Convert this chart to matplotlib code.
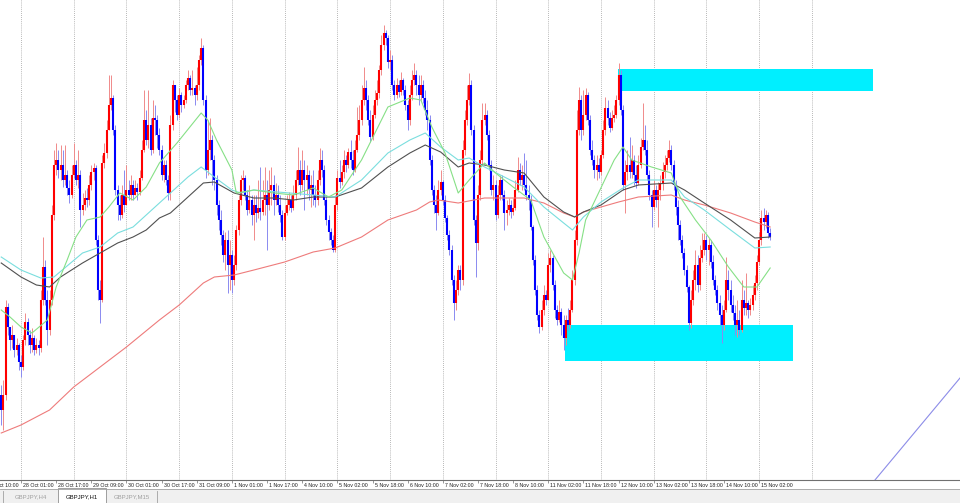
import matplotlib.pyplot as plt
from matplotlib.patches import Rectangle
from matplotlib.lines import Line2D
import numpy as np


# GBPJPY H1 bars, oldest first (open of each bar = previous close)
first_open = 139.05
close = [
    138.90, 139.05, 139.93, 139.73, 139.60, 139.65, 139.50, 139.55, 139.38, 139.33,
    139.60, 139.78, 139.65, 139.55, 139.62, 139.50, 139.55, 139.52, 140.00, 140.33,
    140.00, 139.70, 140.00, 140.85, 141.35, 141.40, 141.30, 141.35, 141.20, 141.25,
    141.12, 141.05, 141.25, 141.35, 141.20, 141.25, 140.90, 140.95, 141.02, 141.00,
    141.15, 141.28, 141.32, 140.60, 140.10, 140.00, 141.37, 141.47, 141.70, 141.95,
    142.02, 141.70, 141.10, 140.95, 140.85, 141.05, 140.95, 141.10, 141.05, 141.15,
    141.05, 141.12, 141.08, 141.22, 141.50, 141.80, 141.60, 141.75, 141.50, 141.82,
    141.80, 141.65, 141.50, 141.25, 141.35, 141.20, 141.07, 141.75, 142.15, 142.00,
    141.85, 142.05, 141.95, 142.00, 142.15, 142.22, 142.10, 142.12, 142.05, 142.15,
    142.40, 142.52, 142.00, 141.30, 141.50, 141.60, 141.40, 141.20, 140.95, 140.80,
    140.65, 140.45, 140.60, 140.35, 140.45, 140.20, 140.35, 140.70, 141.00, 141.20,
    141.22, 141.05, 140.90, 141.00, 140.85, 140.95, 140.87, 140.92, 140.88, 141.00,
    141.05, 140.95, 141.10, 141.15, 141.00, 141.05, 140.95, 140.85, 140.63, 140.87,
    140.95, 141.00, 140.92, 141.05, 141.20, 141.30, 141.15, 141.30, 141.20, 141.25,
    141.10, 141.15, 141.05, 141.00, 141.20, 141.40, 141.30, 141.00, 140.80, 140.68,
    140.60, 140.50, 140.95, 141.22, 141.18, 141.28, 141.40, 141.35, 141.48, 141.40,
    141.30, 141.50, 141.65, 141.80, 142.00, 142.12, 142.00, 141.80, 141.63, 141.85,
    142.00, 142.07, 142.30, 142.55, 142.67, 142.62, 142.38, 142.40, 142.15, 142.05,
    142.15, 142.08, 142.20, 142.10, 141.95, 141.80, 142.05, 142.20, 142.25, 142.15,
    142.05, 142.15, 142.02, 141.90, 141.80, 141.40, 141.10, 140.95, 140.87, 141.10,
    141.18, 141.00, 140.82, 140.65, 140.50, 140.20, 139.97, 140.10, 140.30, 140.20,
    141.50, 141.80, 142.00, 142.15, 141.70, 140.80, 140.57, 141.05, 141.40, 141.80,
    141.85, 141.65, 141.35, 141.10, 141.15, 140.85, 141.05, 141.20, 141.05, 140.87,
    140.90, 140.95, 140.88, 140.92, 141.10, 141.30, 141.20, 141.25, 141.15, 141.05,
    141.00, 140.73, 140.40, 140.10, 139.85, 139.73, 139.90, 140.05, 140.00, 140.35,
    140.42, 140.15, 139.90, 139.80, 139.88, 139.75, 139.62, 139.80, 139.75, 139.90,
    140.20, 140.60, 141.70, 142.00, 141.70, 141.85, 142.05, 141.80, 141.50, 141.40,
    141.30, 141.35, 141.28, 141.45, 141.70, 141.92, 141.82, 141.72, 141.82, 141.85,
    142.00, 142.25, 141.90, 141.15, 141.28, 141.35, 141.28, 141.40, 141.25, 141.17,
    141.35, 141.53, 141.60, 141.50, 141.25, 141.05, 140.93, 141.10, 141.00, 141.10,
    141.17, 141.28, 141.35, 141.42, 141.50, 141.35, 141.15, 140.93, 140.75, 140.60,
    140.47, 140.30, 140.13, 139.77, 140.00, 140.20, 140.35, 140.15, 140.42, 140.50,
    140.60, 140.50, 140.55, 140.38, 140.20, 140.10, 139.97, 139.85, 139.75, 139.90,
    140.20, 140.10, 139.95, 139.87, 139.75, 139.80, 139.70, 140.00, 139.92, 139.97,
    139.90, 139.95, 140.05, 140.17, 140.38, 140.60, 140.82, 140.78, 140.85, 140.67,
    140.63,
]
high = [
    139.15, 139.20, 140.00, 139.97, 139.70, 139.75, 139.65, 139.62, 139.57, 139.45,
    139.65, 139.87, 139.82, 139.70, 139.72, 139.65, 139.62, 139.60, 140.10, 140.63,
    140.40, 140.10, 140.10, 140.95, 141.50, 141.57, 141.50, 141.55, 141.50, 141.55,
    141.30, 141.20, 141.35, 141.57, 141.40, 141.50, 141.30, 141.07, 141.10, 141.12,
    141.25, 141.35, 141.37, 141.35, 140.65, 140.20, 141.45, 141.57, 141.80, 142.25,
    142.25, 142.05, 141.75, 141.15, 141.05, 141.15, 141.30, 141.35, 141.20, 141.25,
    141.20, 141.20, 141.17, 141.30, 141.60, 142.10, 141.90, 142.10, 141.82, 142.00,
    141.95, 141.85, 141.72, 141.55, 141.40, 141.40, 141.25, 141.85, 142.20, 142.15,
    142.05, 142.12, 142.08, 142.05, 142.20, 142.30, 142.25, 142.30, 142.15, 142.33,
    142.45, 142.62, 142.55, 142.05, 141.80, 141.82, 141.65, 141.45, 141.25, 141.00,
    140.90, 140.70, 140.68, 140.70, 140.60, 140.50, 140.45, 140.75, 141.05, 141.25,
    141.30, 141.25, 141.10, 141.15, 141.05, 141.05, 141.05, 141.20, 141.33, 141.20,
    141.33, 141.20, 141.30, 141.33, 141.25, 141.17, 141.15, 141.05, 140.90, 140.95,
    141.05, 141.08, 141.05, 141.15, 141.30, 141.53, 141.40, 141.50, 141.40, 141.35,
    141.30, 141.25, 141.30, 141.15, 141.30, 141.52, 141.50, 141.35, 141.05, 140.85,
    140.72, 140.65, 141.05, 141.30, 141.40, 141.35, 141.50, 141.45, 141.52, 141.60,
    141.50, 141.60, 141.93, 141.95, 142.15, 142.33, 142.20, 142.05, 141.90, 141.95,
    142.10, 142.20, 142.35, 142.65, 142.75, 142.70, 142.65, 142.50, 142.45, 142.20,
    142.22, 142.20, 142.28, 142.22, 142.15, 142.00, 142.15, 142.30, 142.37, 142.30,
    142.25, 142.25, 142.20, 142.10, 142.00, 141.85, 141.45, 141.15, 141.05, 141.20,
    141.30, 141.20, 141.05, 140.85, 140.70, 140.55, 140.25, 140.20, 140.35, 140.35,
    141.60, 141.90, 142.15, 142.27, 142.20, 141.75, 140.85, 141.15, 141.50, 141.97,
    141.97, 141.90, 141.70, 141.40, 141.25, 141.20, 141.15, 141.25, 141.25, 141.10,
    141.00, 141.02, 141.00, 141.02, 141.20, 141.43, 141.37, 141.35, 141.47, 141.40,
    141.15, 141.05, 140.75, 140.45, 140.15, 139.90, 140.00, 140.15, 140.10, 140.47,
    140.50, 140.45, 140.20, 139.95, 140.00, 139.92, 139.85, 139.85, 139.92, 140.00,
    140.30, 140.70, 141.90, 142.13, 142.05, 142.10, 142.12, 142.08, 141.85, 141.60,
    141.45, 141.45, 141.42, 141.50, 141.80, 142.03, 142.00, 141.88, 141.90, 141.95,
    142.05, 142.37, 142.30, 141.95, 141.40, 141.50, 141.63, 141.55, 141.45, 141.35,
    141.45, 141.62, 141.97, 141.75, 141.60, 141.30, 141.10, 141.20, 141.15, 141.18,
    141.25, 141.38, 141.45, 141.50, 141.60, 141.55, 141.40, 141.20, 141.00, 140.80,
    140.65, 140.52, 140.35, 140.15, 140.10, 140.30, 140.50, 140.45, 140.55, 140.67,
    140.67, 140.65, 140.62, 140.60, 140.45, 140.25, 140.15, 140.05, 139.95, 140.00,
    140.43, 140.30, 140.20, 140.05, 139.95, 140.00, 139.90, 140.20, 140.10, 140.27,
    140.00, 140.02, 140.15, 140.25, 140.45, 140.68, 140.90, 140.92, 140.90, 140.88,
    140.72,
]
low = [
    138.75, 138.70, 139.00, 139.65, 139.50, 139.52, 139.43, 139.45, 139.30, 139.23,
    139.30, 139.55, 139.55, 139.47, 139.48, 139.45, 139.47, 139.45, 139.48, 139.95,
    139.95, 139.55, 139.65, 139.95, 140.80, 141.25, 141.22, 141.20, 141.13, 141.15,
    141.05, 140.97, 141.02, 141.22, 141.15, 141.12, 140.73, 140.85, 140.90, 140.93,
    140.95, 141.10, 141.20, 140.55, 140.00, 139.77, 139.98, 141.32, 141.42, 141.70,
    141.90, 141.65, 141.05, 140.80, 140.80, 140.82, 140.88, 140.95, 141.00, 141.00,
    141.00, 141.05, 141.00, 141.05, 141.20, 141.48, 141.55, 141.52, 141.45, 141.47,
    141.65, 141.52, 141.45, 141.20, 141.18, 141.15, 141.00, 141.00, 141.70, 141.88,
    141.80, 141.82, 141.88, 141.92, 141.97, 142.10, 142.05, 142.05, 141.95, 142.00,
    142.10, 142.35, 141.95, 141.22, 141.25, 141.40, 141.15, 141.10, 140.85, 140.70,
    140.55, 140.38, 140.30, 140.07, 140.10, 140.07, 140.15, 140.30, 140.65, 140.95,
    141.10, 141.00, 140.85, 140.87, 140.75, 140.60, 140.78, 140.82, 140.80, 140.85,
    140.85, 140.50, 140.90, 140.95, 140.85, 140.95, 140.88, 140.78, 140.60, 140.60,
    140.85, 140.90, 140.88, 140.90, 141.00, 141.15, 141.05, 141.10, 140.90, 141.05,
    141.00, 140.93, 140.95, 140.93, 140.95, 141.15, 141.23, 140.95, 140.75, 140.60,
    140.55, 140.48, 140.48, 140.90, 141.12, 141.15, 141.22, 141.28, 141.32, 141.32,
    141.25, 141.28, 141.48, 141.60, 141.75, 141.95, 141.90, 141.75, 141.58, 141.60,
    141.82, 141.95, 142.02, 142.25, 142.50, 142.55, 142.32, 142.30, 142.10, 142.00,
    142.02, 142.03, 142.05, 142.05, 141.90, 141.70, 141.75, 142.00, 142.15, 142.05,
    141.95, 142.00, 141.97, 141.85, 141.70, 141.35, 141.05, 140.87, 140.70, 140.85,
    141.05, 140.95, 140.78, 140.60, 140.45, 140.15, 139.80, 139.90, 140.05, 140.10,
    140.15, 141.45, 141.75, 141.95, 141.65, 140.75, 140.23, 140.50, 141.00, 141.35,
    141.75, 141.60, 141.30, 141.05, 141.00, 140.80, 140.82, 141.00, 141.00, 140.70,
    140.75, 140.85, 140.82, 140.85, 140.90, 141.08, 141.15, 141.10, 141.10, 141.00,
    140.90, 140.70, 140.35, 140.05, 139.80, 139.67, 139.70, 139.85, 139.95, 140.00,
    140.28, 140.10, 139.82, 139.75, 139.78, 139.65, 139.50, 139.55, 139.70, 139.72,
    139.88, 140.15, 140.55, 141.65, 141.60, 141.65, 141.80, 141.75, 141.45, 141.35,
    141.22, 141.20, 141.22, 141.25, 141.42, 141.65, 141.75, 141.68, 141.70, 141.78,
    141.82, 141.95, 141.85, 141.10, 140.87, 141.20, 141.22, 141.22, 141.15, 141.12,
    141.15, 141.32, 141.50, 141.45, 141.20, 141.00, 140.73, 140.90, 140.93, 140.73,
    141.00, 141.10, 141.22, 141.30, 141.38, 141.30, 141.10, 140.85, 140.60, 140.55,
    140.42, 140.25, 140.08, 139.70, 139.72, 139.95, 140.10, 140.08, 140.10, 140.38,
    140.45, 140.40, 140.35, 140.32, 140.15, 140.05, 139.90, 139.75, 139.57, 139.70,
    139.88, 140.00, 139.88, 139.80, 139.65, 139.63, 139.65, 139.68, 139.85, 139.85,
    139.82, 139.85, 139.90, 140.00, 140.10, 140.35, 140.55, 140.70, 140.72, 140.62,
    140.60,
]

time_labels = [
    "25 Oct 10:00", "28 Oct 01:00", "28 Oct 17:00", "29 Oct 09:00", "30 Oct 01:00",
    "30 Oct 17:00", "31 Oct 09:00", "1 Nov 01:00", "1 Nov 17:00", "4 Nov 10:00",
    "5 Nov 02:00", "5 Nov 18:00", "6 Nov 10:00", "7 Nov 02:00", "7 Nov 18:00",
    "8 Nov 10:00", "11 Nov 02:00", "11 Nov 18:00", "12 Nov 10:00", "13 Nov 02:00",
    "13 Nov 18:00", "14 Nov 10:00", "15 Nov 02:00",
]

# moving averages (bar index, price)
red_bars = [0, 9, 22, 33, 45, 57, 72, 81, 92, 97, 106, 115, 129, 142, 152, 164, 176, 189,
            195, 199, 208, 220, 238, 247, 256, 261, 265, 273, 281, 290, 305, 311, 320, 332, 343, 350]
red_vals = [138.67, 138.75, 138.90, 139.13, 139.33, 139.53, 139.80, 139.95, 140.17, 140.23,
            140.25, 140.30, 140.38, 140.48, 140.52, 140.63, 140.80, 140.90, 140.98, 141.00,
            140.97, 141.02, 141.02, 140.97, 140.87, 140.83, 140.88, 140.93, 140.98, 141.03,
            141.05, 141.00, 140.95, 140.87, 140.78, 140.73]

gray_bars = [0, 9, 16, 22, 27, 37, 45, 53, 60, 66, 72, 77, 81, 92, 97, 106, 115, 124, 133, 142,
             152, 164, 176, 186, 193, 200, 208, 213, 220, 229, 238, 247, 256, 261, 265, 273,
             283, 290, 305, 311, 320, 332, 343, 350]
gray_vals = [140.37, 140.23, 140.15, 140.13, 140.23, 140.37, 140.47, 140.57, 140.63, 140.70,
             140.82, 140.87, 140.95, 141.17, 141.18, 141.07, 141.02, 141.02, 141.00, 141.03,
             141.03, 141.12, 141.33, 141.47, 141.55, 141.48, 141.33, 141.37, 141.35, 141.30,
             141.27, 141.03, 140.88, 140.83, 140.88, 140.95, 141.10, 141.15, 141.17, 141.10,
             140.97, 140.80, 140.62, 140.63]

cyan_bars = [0, 9, 18, 24, 37, 45, 53, 60, 70, 77, 85, 91, 97, 105, 109, 115, 142, 152, 164, 176,
             186, 193, 200, 208, 213, 220, 229, 238, 247, 256, 260, 265, 273, 283, 290, 305,
             311, 320, 332, 343, 350]
cyan_vals = [140.43, 140.30, 140.22, 140.23, 140.47, 140.53, 140.67, 140.73, 140.93, 141.07,
             141.23, 141.33, 141.23, 141.10, 141.07, 141.10, 141.05, 141.03, 141.20, 141.47,
             141.60, 141.67, 141.53, 141.40, 141.42, 141.33, 141.23, 141.13, 140.93, 140.77,
             140.70, 140.83, 140.98, 141.12, 141.20, 141.20, 141.03, 140.90, 140.70, 140.52,
             140.53]

green_bars = [0, 4, 9, 14, 21, 25, 30, 34, 39, 45, 49, 54, 60, 66, 72, 80, 91, 94, 98, 105,
              107, 115, 124, 133, 142, 149, 155, 164, 176, 186, 191, 196, 202, 208, 213, 220,
              225, 233, 241, 247, 251, 256, 260, 263, 266, 271, 279, 283, 287, 296, 305, 309,
              316, 323, 331, 338, 344, 350]
green_vals = [139.90, 139.83, 139.73, 139.67, 139.80, 140.13, 140.40, 140.63, 140.80, 140.83,
              140.93, 141.07, 141.00, 141.13, 141.37, 141.57, 141.87, 141.80, 141.60, 141.30,
              141.07, 141.10, 141.07, 141.05, 141.12, 141.03, 141.10, 141.40, 141.93, 142.02,
              142.00, 141.73, 141.47, 141.07, 141.20, 141.37, 141.27, 141.13, 141.00, 140.63,
              140.47, 140.27, 140.20, 140.47, 140.80, 141.03, 141.40, 141.53, 141.40, 141.33,
              141.27, 141.03, 140.80, 140.60, 140.33, 140.13, 140.13, 140.32]

# supply / demand zones (bar from, bar to, top, bottom)
zone_start = [280.7, 256.6]
zone_end = [396.8, 360.4]
zone_top = [142.31, 139.75]
zone_bottom = [142.09, 139.39]

trend_bars = [397.7, 436.4]
trend_vals = [138.20, 139.22]

tab_names = ["GBPJPY,H4", "GBPJPY,H1", "GBPJPY,M15"]
active_tab = 1


close = np.array(close)
high = np.array(high)
low = np.array(low)
open_ = np.r_[first_open, close[:-1]]
idx = np.arange(len(close))
up = close >= open_

W, H = 960, 503
fig = plt.figure(figsize=(W / 100, H / 100), dpi=100)
ax = fig.add_axes([0, 23 / H, 1, 480 / H])

# day separators every 24 bars
for b in range(-15, 370, 24):
    ax.axvline(b, color="#a0a0a0", lw=0.6, ls=(0, (1, 1.5)), zorder=0)

for x0, x1, top, bot in zip(zone_start, zone_end, zone_top, zone_bottom):
    ax.add_patch(Rectangle((x0, bot), x1 - x0, top - bot, facecolor="#00efff",
                           edgecolor="none", zorder=1))

wick_col = ["#f08a8a" if u else "#8a8af0" for u in up]
body_col = ["#ff0000" if u else "#0000ff" for u in up]
ax.vlines(idx, low, high, colors=wick_col, lw=0.7, zorder=2)
ax.vlines(idx, open_, close, colors=body_col, lw=1.5, zorder=3)

ax.plot(red_bars, red_vals, color="#ee7b7b", lw=0.8, zorder=4)
ax.plot(gray_bars, gray_vals, color="#505050", lw=0.8, zorder=4)
ax.plot(cyan_bars, cyan_vals, color="#7adede", lw=0.8, zorder=4)
ax.plot(green_bars, green_vals, color="#86e086", lw=0.8, zorder=4)
ax.plot(trend_bars, trend_vals, color="#8c8ce8", lw=0.8, zorder=4)

for s in ["top", "left", "right"]:
    ax.spines[s].set_visible(False)
ax.spines["bottom"].set_color("#707070")
ax.spines["bottom"].set_linewidth(0.8)

label_bars = [9 + 16 * (k - 1) for k in range(len(time_labels))]
ax.set_yticks([])
ax.set_xticks(label_bars)
ax.set_xticklabels([])
ax.tick_params(axis="x", length=2, width=0.5, color="#707070", direction="out")
ax.set_xlim(-0.56, 436.4)
ax.set_ylim(138.20, 143.00)
for b, t in zip(label_bars, time_labels):
    ax.text(b + 0.9, -0.0115, t, transform=ax.get_xaxis_transform(), fontsize=3.8,
            family="Liberation Sans", ha="left", va="center", color="#202020")

# terminal tab strip
def fx(x):
    return x / W


def fy(y):
    return 1 - y / H


fig.add_artist(Rectangle((0, 0), 1, fy(489), transform=fig.transFigure,
                         facecolor="#f0f0f0", edgecolor="none", zorder=0))
fig.add_artist(Line2D([0, 1], [fy(489), fy(489)], transform=fig.transFigure,
                      color="#a0a0a0", lw=0.6))
tab_edges = [3, 58, 106, 157]
for k, name in enumerate(tab_names):
    x0, x1 = tab_edges[k], tab_edges[k + 1]
    if k == active_tab:
        fig.add_artist(Rectangle((fx(x0), 0), fx(x1 - x0), fy(488), transform=fig.transFigure,
                                 facecolor="white", edgecolor="#909090", lw=0.6, zorder=1))
    else:
        fig.add_artist(Line2D([fx(x1), fx(x1)], [0, fy(491)], transform=fig.transFigure,
                              color="#a0a0a0", lw=0.6))
    fig.text(fx((x0 + x1) / 2), fy(497), name, fontsize=4.3, family="Liberation Sans",
             ha="center", va="center", color="#111111" if k == active_tab else "#a0a0a0",
             zorder=2)
fig.add_artist(Line2D([fx(3), fx(3)], [0, fy(491)], transform=fig.transFigure,
                      color="#a0a0a0", lw=0.6))

plt.savefig("out.png", dpi=100)
plt.close()
